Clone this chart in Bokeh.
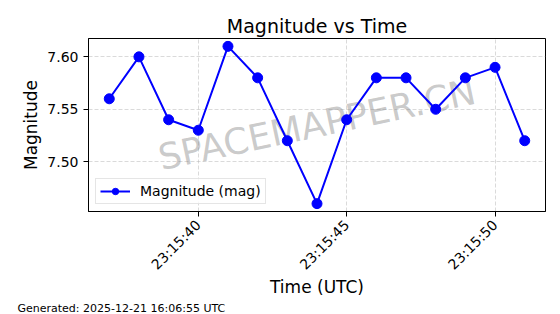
import math
from datetime import datetime

from bokeh.plotting import figure
from bokeh.models import (Range1d, SingleIntervalTicker, DatetimeTickFormatter,
                          Label, PrintfTickFormatter, FixedTicker, Title)
from bokeh.embed import file_html
from bokeh.resources import INLINE

# ---- data ----
date = "2025-12-20"
times = ["23:15:37", "23:15:38", "23:15:39", "23:15:40", "23:15:41",
         "23:15:42", "23:15:43", "23:15:44", "23:15:45", "23:15:46",
         "23:15:47", "23:15:48", "23:15:49", "23:15:50", "23:15:51"]
magnitude = [7.56, 7.60, 7.54, 7.53, 7.61, 7.58, 7.52, 7.46,
             7.54, 7.58, 7.58, 7.55, 7.58, 7.59, 7.52]
y_ticks = [7.50, 7.55, 7.60]
title_text = "Magnitude vs Time"
x_label = "Time (UTC)"
y_label = "Magnitude"
legend_text = "Magnitude (mag)"
watermark = "SPACEMAPPER.CN"
footer = "Generated: 2025-12-21 16:06:55 UTC"

FONT = "DejaVu Sans"

x = [datetime.strptime(f"{date} {t}", "%Y-%m-%d %H:%M:%S") for t in times]
xpad = (x[-1] - x[0]) * 0.05
ypad = (max(magnitude) - min(magnitude)) * 0.05

p = figure(width=560, height=314, x_axis_type="datetime",
           output_backend="svg", toolbar_location=None,
           x_range=Range1d(x[0] - xpad, x[-1] + xpad),
           y_range=Range1d(min(magnitude) - ypad, max(magnitude) + ypad),
           min_border_left=88, min_border_right=15,
           min_border_top=38, min_border_bottom=102,
           title=title_text)

p.background_fill_color = "white"
p.border_fill_color = "white"
p.outline_line_color = "black"
p.outline_line_width = 1
p.outline_line_alpha = 1

# title
p.title.align = "center"
p.title.text_font = FONT
p.title.text_font_size = "19px"
p.title.text_font_style = "normal"
p.title.text_color = "black"
p.title.standoff = 4

# watermark (behind data)
p.add_layout(Label(x=228.5, y=87, x_units="screen", y_units="screen",
                   text=watermark, text_font=FONT, text_font_size="36px",
                   text_color="gray", text_alpha=0.42, angle=12, angle_units="deg",
                   text_align="center", text_baseline="middle", level="underlay"))

p.line(x, magnitude, line_width=2, color="blue", legend_label=legend_text)
p.scatter(x, magnitude, size=10, color="blue", legend_label=legend_text)

# axes
for ax in (p.xaxis, p.yaxis):
    ax.axis_line_color = "black"
    ax.major_tick_line_color = "black"
    ax.major_tick_out = 5
    ax.major_tick_in = 0
    ax.minor_tick_line_color = None
    ax.major_label_text_font = FONT
    ax.major_label_text_font_size = "14px"
    ax.major_label_text_color = "black"
    ax.axis_label_text_font = FONT
    ax.axis_label_text_font_size = "17px"
    ax.axis_label_text_font_style = "normal"
    ax.axis_label_text_color = "black"

p.xaxis.ticker = SingleIntervalTicker(interval=5000, num_minor_ticks=0)
p.xaxis.formatter = DatetimeTickFormatter(seconds="%H:%M:%S", minsec="%H:%M:%S",
                                          minutes="%H:%M:%S", milliseconds="%H:%M:%S")
p.xaxis.major_label_orientation = math.pi / 4
p.xaxis.major_label_standoff = 6
p.xaxis.axis_label = x_label

p.yaxis.ticker = FixedTicker(ticks=y_ticks)
p.yaxis.formatter = PrintfTickFormatter(format="%.2f")
p.yaxis.axis_label = y_label
p.yaxis.axis_label_standoff = 3

for g in (p.xgrid, p.ygrid):
    g.grid_line_color = "#b0b0b0"
    g.grid_line_alpha = 0.6
    g.grid_line_dash = "4 2"
    g.grid_line_width = 0.8

# legend
lg = p.legend[0]
lg.location = "bottom_left"
lg.margin = 7
lg.padding = 4
lg.spacing = 0
lg.glyph_width = 30
lg.glyph_height = 16
lg.label_height = 16
lg.label_standoff = 10
lg.label_text_font = FONT
lg.label_text_font_size = "14px"
lg.label_text_color = "black"
lg.border_line_color = "#cccccc"
lg.border_line_width = 1
lg.background_fill_alpha = 0.8

# footer
foot = Title(text=footer, align="left", offset=-71, standoff=0,
             text_font=FONT, text_font_size="11px",
             text_font_style="normal", text_color="black")
try:
    p.xaxis.axis_label_standoff = -4
    foot.standoff = -1
except Exception:
    p.xaxis.axis_label_standoff = 0
    foot.standoff = -5
p.add_layout(foot, "below")

open("out.html", "w").write(file_html(p, INLINE))
